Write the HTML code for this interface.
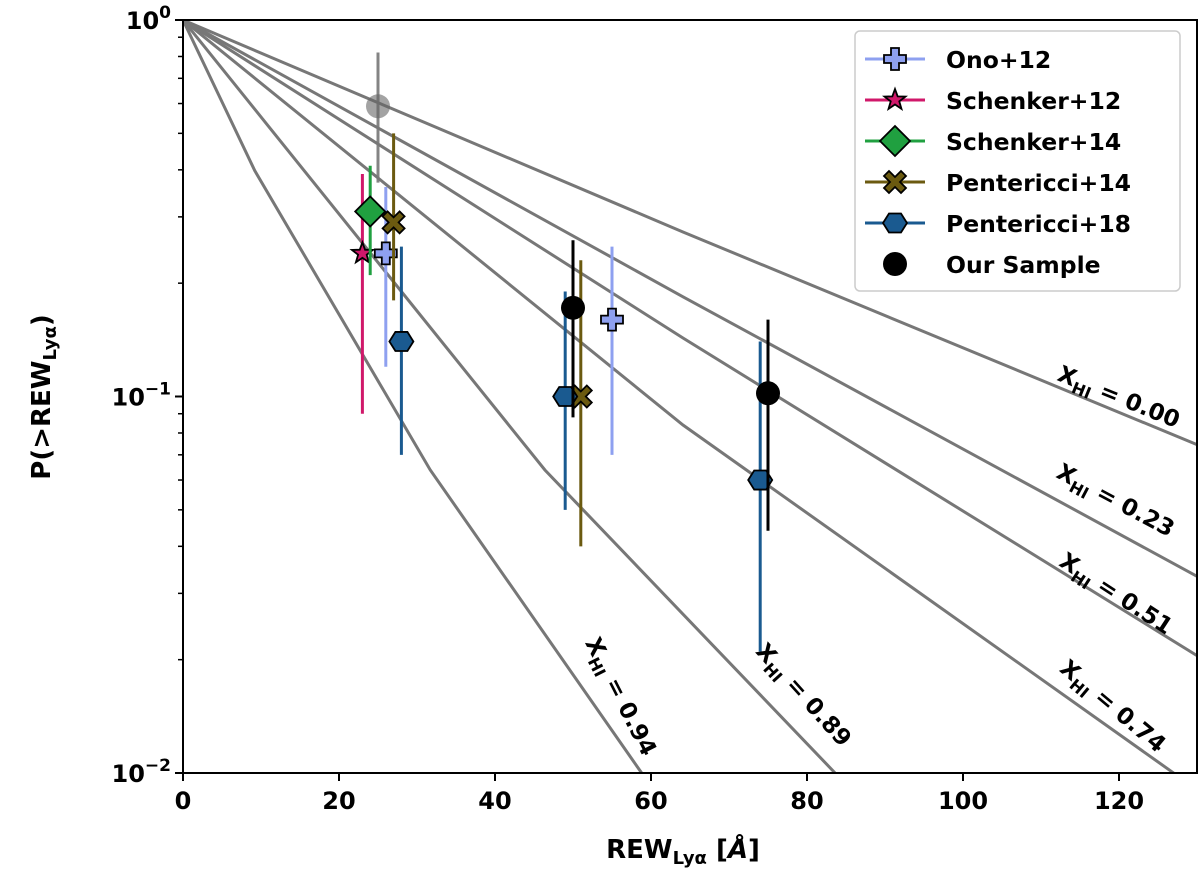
<!DOCTYPE html>
<html><head><meta charset="utf-8"><style>
html,body{margin:0;background:#fff;overflow:hidden;width:1200px;height:888px}
svg{display:block}
text{font-family:"DejaVu Sans","Liberation Sans",sans-serif;font-weight:bold}
</style></head><body>
<svg id="c" width="1200" height="888" xmlns="http://www.w3.org/2000/svg"></svg>
<script>
const xTicks=[0,20,40,60,80,100,120];
const lineLabels=["0.00","0.23","0.51","0.74","0.89","0.94"];
const lineW=[[0,64.1,130],[0,64.1,130],[0,64.1,130],[0,64.1,127,130],[0,46.4,83.6,130],[0,9.2,31.7,58.8,80]];
const lineP=[[1,0.2735,0.0745],[1,0.184,0.0333],[1,0.143,0.0205],[1,0.084,0.01,0.0088],[1,0.0638,0.01,0.001],[1,0.398,0.0638,0.01,0.002]];
const labelPx=[[1116,404],[1112,507],[1112,600],[1108,712],[798,700],[614,700]];
const labelAng=[22,28,33,40,48,63];
const sNames=["Ono+12","Schenker+12","Schenker+14","Pentericci+14","Pentericci+18","Our Sample"];
const sColors=["#8ea0f0","#d0186a","#20a040","#6b5a10","#1a5a90","#000000"];
const sMarkers=["plus","star","diamond","x","hex","circle"];
const sX=[[26,55],[23],[24],[27,51],[28,49,74],[50,75]];
const sY=[[0.24,0.16],[0.24],[0.31],[0.29,0.1],[0.14,0.1,0.06],[0.172,0.102]];
const sLo=[[0.12,0.07],[0.09],[0.21],[0.18,0.04],[0.07,0.05,0.021],[0.088,0.044]];
const sHi=[[0.36,0.25],[0.39],[0.41],[0.5,0.23],[0.25,0.19,0.14],[0.26,0.16]];
const greyX=[25],greyY=[0.59],greyLo=[0.37],greyHi=[0.82];
const L=183,R=1197,T=20,B=773;
const X=v=>L+v*7.8, Y=p=>T+(-Math.log10(p))*376.5;
const svg=document.getElementById('c');const NS="http://www.w3.org/2000/svg";
function el(t,a,p){const e=document.createElementNS(NS,t);for(const k in a)e.setAttribute(k,a[k]);(p||svg).appendChild(e);return e;}
const defs=el('defs',{});const cp=el('clipPath',{id:'cp'},defs);el('rect',{x:L,y:T,width:R-L,height:B-T},cp);
const g=el('g',{'clip-path':'url(#cp)'});
lineW.forEach((ws,i)=>{const l=el('polyline',{points:ws.map((w,j)=>X(w)+','+Y(lineP[i][j])).join(' '),fill:'none',stroke:'#777',"stroke-width":3},g);
});
lineLabels.forEach((s,i)=>{const x=labelPx[i][0],y=labelPx[i][1];
const t=el('text',{x:x,y:y,'font-size':23,'text-anchor':'middle',transform:`rotate(${labelAng[i]} ${x} ${y})`});
t.innerHTML=`X<tspan font-size="16" dy="6">HI</tspan><tspan dy="-6"> = ${s}</tspan>`;
});
function marker(m,x,y,c,pg){const s='stroke:#000;stroke-width:1.8;fill:'+c;let e;
if(m=='plus')e=el('path',{d:`M${x-4},${y-11}h8v7h7v8h-7v7h-8v-7h-7v-8h7z`,style:s},pg);
else if(m=='star'){let pts=[];for(let k=0;k<10;k++){const r=k%2?4.5:11,a=-Math.PI/2+k*Math.PI/5;pts.push((x+r*Math.cos(a))+','+(y+r*Math.sin(a)));}e=el('polygon',{points:pts.join(' '),style:s},pg);}
else if(m=='diamond')e=el('polygon',{points:`${x},${y-15} ${x+15},${y} ${x},${y+15} ${x-15},${y}`,style:s},pg);
else if(m=='x')e=el('path',{d:`M${x-11},${y-6}l5,-5l6,6l6,-6l5,5l-6,6l6,6l-5,5l-6,-6l-6,6l-5,-5l6,-6z`,style:s},pg);
else if(m=='hex'){let pts=[];for(let k=0;k<6;k++){const a=k*Math.PI/3;pts.push((x+12*Math.cos(a))+','+(y+11*Math.sin(a)));}e=el('polygon',{points:pts.join(' '),style:s},pg);}
else e=el('circle',{cx:x,cy:y,r:12,fill:c},pg);return e;}
greyX.forEach((w,i)=>{el('line',{x1:X(w),x2:X(w),y1:Y(greyLo[i]),y2:Y(greyHi[i]),stroke:'#777','stroke-width':3,'stroke-opacity':0.9},g);
const c=el('circle',{cx:X(w),cy:Y(greyY[i]),r:12,fill:'#666','fill-opacity':0.6},g);});
sNames.forEach((n,i)=>{sX[i].forEach((w,j)=>{
el('line',{x1:X(w),x2:X(w),y1:Y(sLo[i][j]),y2:Y(sHi[i][j]),stroke:sColors[i],'stroke-width':3},g);
const m=marker(sMarkers[i],X(w),Y(sY[i][j]),sColors[i],g);

});});
el('rect',{x:L,y:T,width:R-L,height:B-T,fill:'none',stroke:'#000','stroke-width':2});
xTicks.forEach(v=>{el('line',{x1:X(v),x2:X(v),y1:B,y2:B+8,stroke:'#000','stroke-width':2});
const t=el('text',{x:X(v),y:B+36,'font-size':24,'text-anchor':'middle'});t.textContent=v;
});
[0,-1,-2].forEach(e=>{const y=Y(Math.pow(10,e));el('line',{x1:L-8,x2:L,y1:y,y2:y,stroke:'#000','stroke-width':2});
for(let k=2;k<10&&e>-2;k++){const yy=Y(k*Math.pow(10,e-1));el('line',{x1:L-5,x2:L,y1:yy,y2:yy,stroke:'#000','stroke-width':1.5});}
const t=el('text',{x:L-12,y:y+9,'font-size':24,'text-anchor':'end'});t.innerHTML=`10<tspan font-size="17" dy="-11">${e==0?'0':'−'+(-e)}</tspan>`;
});
let t=el('text',{x:683,y:858,'font-size':26,'text-anchor':'middle'});t.innerHTML='REW<tspan font-size="18" dy="6">Lyα</tspan><tspan dy="-6"> [</tspan><tspan font-style="italic">Å</tspan>]';

t=el('text',{x:0,y:0,'font-size':26,'text-anchor':'middle',transform:'translate(50,397) rotate(-90)'});t.innerHTML='P(&gt;REW<tspan font-size="18" dy="6">Lyα</tspan><tspan dy="-6">)</tspan>';

const lg=el('g',{});
el('rect',{x:855,y:31,width:325,height:260,rx:5,fill:'#fff',stroke:'#ccc','stroke-width':1.5},lg);
sNames.forEach((n,i)=>{const y=59+i*41;const e=el('g',{},lg);

if(i<5)el('line',{x1:865,x2:925,y1:y,y2:y,stroke:sColors[i],'stroke-width':3},e);
marker(sMarkers[i],895,y,sColors[i],e);
const tt=el('text',{x:946,y:y+9,'font-size':23.5},e);tt.textContent=n;});
</script></body></html>
